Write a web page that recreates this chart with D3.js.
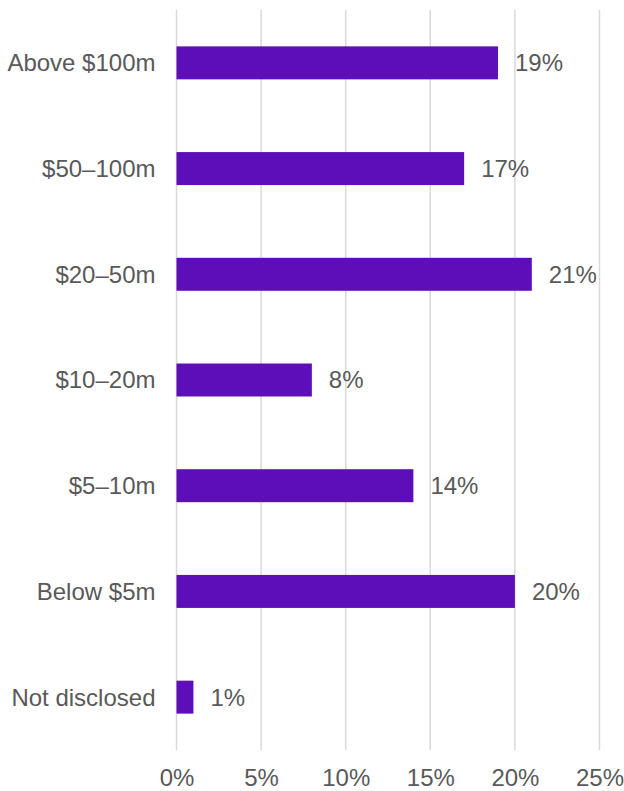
<!DOCTYPE html>
<html>
<head>
<meta charset="utf-8">
<script src="https://cdn.jsdelivr.net/npm/d3@7"></script>
<style>
  html, body { margin: 0; padding: 0; background: #fff; }
  svg { display: block; }
  text { font-family: "Liberation Sans", Arial, sans-serif; fill: #595959; }
</style>
</head>
<body>
<svg id="chart" width="624" height="791"></svg>
<script>
// Deal size categories and share of deals (%)
const categories = ["Above $100m", "$50–100m", "$20–50m", "$10–20m", "$5–10m", "Below $5m", "Not disclosed"];
const shares = [19, 17, 21, 8, 14, 20, 1];
const tickValues = [0, 5, 10, 15, 20, 25];

const svg = d3.select("#chart");
const x0 = 176.5, x1 = 599.5, yTop = 10, yBottom = 750;
const fontSize = 24;

const x = d3.scaleLinear().domain([0, 25]).range([x0, x1]);
const y = d3.scaleBand().domain(categories).range([yTop, yBottom])
  .paddingInner(0.688).paddingOuter(0.344);

// vertical gridlines
svg.append("g").selectAll("line").data(tickValues).join("line")
  .attr("x1", d => x(d)).attr("x2", d => x(d))
  .attr("y1", yTop).attr("y2", yBottom)
  .attr("stroke", "#d9d9d9").attr("stroke-width", 1.5);

// x tick labels
const xAxis = d3.axisBottom(x).tickValues(tickValues).tickFormat(d => d + "%").tickSize(0).tickPadding(0);
const gx = svg.append("g").attr("transform", `translate(0,${yBottom})`).call(xAxis);
gx.select(".domain").remove();
gx.selectAll("text")
  .attr("y", 36).attr("dy", null)
  .attr("font-size", fontSize).style("font-family", "'Liberation Sans', Arial, sans-serif").attr("fill", "#595959");

// bars
svg.append("g").selectAll("rect").data(categories).join("rect")
  .attr("x", x(0))
  .attr("y", d => y(d))
  .attr("width", (d, i) => x(shares[i]) - x(0))
  .attr("height", y.bandwidth())
  .attr("fill", "#5e0eb8");

// category labels
const yAxis = d3.axisLeft(y).tickSize(0).tickPadding(0);
const gy = svg.append("g").attr("transform", `translate(${x0 - 21},0)`).call(yAxis);
gy.select(".domain").remove();
gy.selectAll("text")
  .attr("x", 0).attr("dy", "0.35em")
  .attr("font-size", fontSize).style("font-family", "'Liberation Sans', Arial, sans-serif").attr("fill", "#595959");

// value labels
svg.append("g").selectAll("text").data(categories).join("text")
  .attr("x", (d, i) => x(shares[i]) + 17)
  .attr("y", d => y(d) + y.bandwidth() / 2)
  .attr("dy", "0.35em")
  .attr("font-size", fontSize)
  .text((d, i) => shares[i] + "%");
</script>
</body>
</html>
